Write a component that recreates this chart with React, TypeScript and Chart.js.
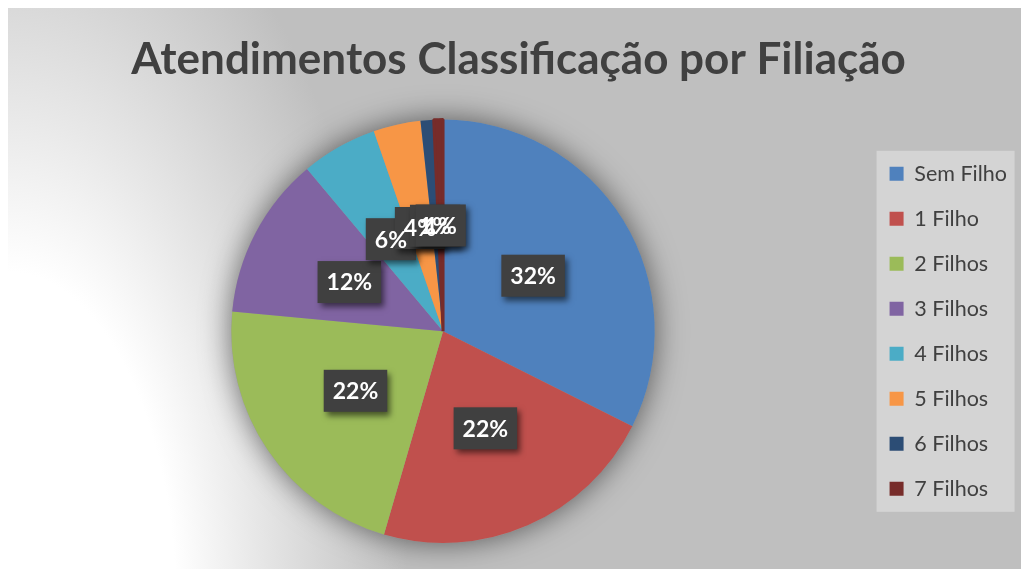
import React, { useEffect, useRef } from 'react';
import { Chart, registerables } from 'chart.js';

Chart.register(...registerables);

const TITLE = 'Atendimentos Classificação por Filiação';
const categories = ['Sem Filho', '1 Filho', '2 Filhos', '3 Filhos', '4 Filhos', '5 Filhos', '6 Filhos', '7 Filhos'];
const shares = [32.4, 22.1, 22.0, 12.4, 5.8, 3.6, 1.0, 0.7];
const colors = ['#4f81bd', '#c0504d', '#9bbb59', '#8064a2', '#4bacc6', '#f79646', '#2c4d75', '#772c2a'];
const borderWidths = [0, 0, 0, 0, 0, 0, 0, 3];

const backgroundPlugin = {
  id: 'bgPlugin',
  beforeDraw(chart: any) {
    const { ctx, width, height } = chart;
    ctx.save();
    ctx.fillStyle = '#bfbfbf';
    ctx.fillRect(0, 0, width, height);
    ctx.save();
    ctx.translate(0, 600);
    ctx.scale(1, 2);
    const g = ctx.createRadialGradient(0, 0, 0, 0, 0, 400);
    g.addColorStop(0, '#ffffff');
    g.addColorStop(0.42, '#ffffff');
    g.addColorStop(0.62, '#e8e8e8');
    g.addColorStop(0.8, '#d4d4d4');
    g.addColorStop(1, '#bfbfbf');
    ctx.fillStyle = g;
    ctx.fillRect(0, -300, width, 300);
    ctx.restore();
    const lg = chart.legend;
    const hb = lg && lg.legendHitBoxes;
    if (hb && hb.length) {
      const first = hb[0];
      const last = hb[hb.length - 1];
      const x0 = first.left - 13;
      const y0 = first.top + first.height / 2 - 23;
      const y1 = last.top + last.height / 2 + 23;
      ctx.fillStyle = '#d4d4d4';
      ctx.fillRect(x0, y0, 138, y1 - y0);
    }
    ctx.restore();
  },
};

const haloPlugin = {
  id: 'haloPlugin',
  beforeDatasetsDraw(chart: any) {
    const meta = chart.getDatasetMeta(0);
    if (!meta.data.length) return;
    const { x, y, outerRadius } = meta.data[0].getProps(['x', 'y', 'outerRadius'], true);
    const ctx = chart.ctx;
    ctx.save();
    ctx.shadowColor = 'rgba(0,0,0,0.55)';
    ctx.shadowBlur = 30;
    ctx.fillStyle = '#999999';
    ctx.beginPath();
    ctx.arc(x, y, outerRadius, 0, Math.PI * 2);
    ctx.fill();
    ctx.restore();
  },
};

const labelPlugin = {
  id: 'labelPlugin',
  afterDatasetsDraw(chart: any) {
    const ctx = chart.ctx;
    const meta = chart.getDatasetMeta(0);
    const values = chart.data.datasets[0].data as number[];
    const total = values.reduce((a, b) => a + b, 0);
    ctx.save();
    ctx.font = 'bold 23px Lato';
    ctx.textAlign = 'center';
    ctx.textBaseline = 'middle';
    const items = meta.data.map((arc: any, i: number) => {
      const { x, y, startAngle, endAngle, outerRadius } = arc.getProps(
        ['x', 'y', 'startAngle', 'endAngle', 'outerRadius'],
        true
      );
      const mid = (startAngle + endAngle) / 2;
      const cx = x + Math.cos(mid) * outerRadius * 0.5;
      const cy = y + Math.sin(mid) * outerRadius * 0.5;
      const text = Math.round((values[i] / total) * 100) + '%';
      const w = ctx.measureText(text).width + 18;
      return { cx, cy, text, w };
    });
    const h = 42;
    items.forEach((it: any) => {
      ctx.save();
      ctx.shadowColor = 'rgba(0,0,0,0.55)';
      ctx.shadowBlur = 6;
      ctx.shadowOffsetX = 3;
      ctx.shadowOffsetY = 4;
      ctx.fillStyle = '#404040';
      ctx.fillRect(it.cx - it.w / 2, it.cy - h / 2, it.w, h);
      ctx.restore();
    });
    ctx.fillStyle = '#ffffff';
    items.forEach((it: any) => {
      ctx.fillText(it.text, it.cx, it.cy + 1);
    });
    ctx.restore();
  },
};

export default function App() {
  const canvasRef = useRef<HTMLCanvasElement | null>(null);

  useEffect(() => {
    const canvas = canvasRef.current;
    if (!canvas) return;
    const chart = new Chart(canvas, {
      type: 'pie',
      data: {
        labels: categories,
        datasets: [
          {
            data: shares,
            backgroundColor: colors,
            borderColor: colors,
            borderWidth: borderWidths,
          },
        ],
      },
      options: {
        responsive: false,
        animation: false,
        layout: { padding: { left: 12, right: 12, top: 0, bottom: 24.5 } },
        plugins: {
          title: {
            display: true,
            text: TITLE,
            color: '#404040',
            font: { family: 'Lato', size: 44, weight: 'bold' },
            padding: { top: 25, bottom: 32.3 },
          },
          legend: {
            position: 'right',
            fullSize: false,
            align: 'center',
            labels: {
              boxWidth: 14,
              boxHeight: 14,
              padding: 23.5,
              color: '#404040',
              font: { family: 'Lato', size: 21.5 },
              generateLabels: (c: any) =>
                (Chart as any).overrides.pie.plugins.legend.labels
                  .generateLabels(c)
                  .map((l: any) => ({ ...l, lineWidth: 0 })),
            },
          },
          tooltip: { enabled: false },
        },
      } as any,
      plugins: [backgroundPlugin, haloPlugin, labelPlugin],
    });
    return () => chart.destroy();
  }, []);

  return (
    <div
      style={{
        width: 1021,
        height: 561,
        borderTop: '1px solid #bfbfbf',
        borderLeft: '1px solid #bfbfbf',
        margin: '-1px 0 0 -1px',
      }}
    >
      <canvas ref={canvasRef} width={1021} height={561} style={{ display: 'block' }} />
    </div>
  );
}
